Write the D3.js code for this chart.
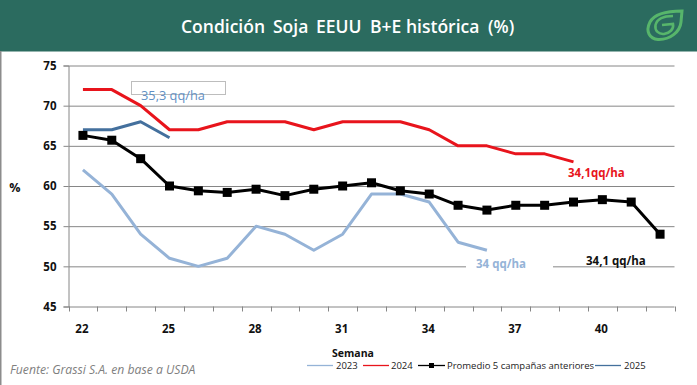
<!DOCTYPE html>
<html>
<head>
<meta charset="utf-8">
<script src="https://cdn.jsdelivr.net/npm/d3@7/dist/d3.min.js"></script>
<style>
  html, body { margin: 0; padding: 0; background: #fff; }
  svg { display: block; }
  text { font-family: "Open Sans", "DejaVu Sans", sans-serif; }
</style>
</head>
<body>
<div id="chart"></div>
<script>
// Data
const weeks = d3.range(22, 43);
const tickWeeks = [22, 25, 28, 31, 34, 37, 40];
const yTicks = [45, 50, 55, 60, 65, 70, 75];

const values2023 = [62, 59, 54, 51, 50, 51, 55, 54, 52, 54, 59, 59, 58, 53, 52];
const values2024 = [72, 72, 70, 67, 67, 68, 68, 68, 67, 68, 68, 68, 67, 65, 65, 64, 64, 63];
const valuesAvg = [66.3, 65.7, 63.4, 60, 59.4, 59.2, 59.6, 58.8, 59.6, 60, 60.4, 59.4, 59, 57.6, 57, 57.6, 57.6, 58, 58.3, 58, 54];
const values2025 = [67, 67, 68, 66];

const W = 697, H = 385;
const margin = {top: 65.5, right: 22.5, bottom: 78.5, left: 68.5};

const svg = d3.select("#chart").append("svg")
    .attr("width", W)
    .attr("height", H);

// Header band and outer frame
svg.append("rect").attr("width", W).attr("height", 51.5).attr("fill", "#2b6b5f");
svg.append("line").attr("x1", 0.5).attr("x2", 0.5).attr("y1", 51).attr("y2", H)
    .attr("stroke", "#8c8c8c").attr("stroke-width", 2);

// Title words placed one by one, the gaps in the original are uneven
const titleWords = [
  {word: "Condición", x: 181},
  {word: "Soja", x: 273},
  {word: "EEUU", x: 316},
  {word: "B+E", x: 370},
  {word: "histórica", x: 406},
  {word: "(%)", x: 488}
];
svg.append("g")
    .selectAll("text")
    .data(titleWords)
    .join("text")
      .attr("x", d => d.x)
      .attr("y", 33)
      .attr("fill", "#fff")
      .style("font-size", "17.5px")
      .style("font-weight", 600)
      .text(d => d.word);

// Logo
const logo = svg.append("g").attr("fill", "none").attr("stroke", "#57b56b");
logo.append("path").attr("stroke-width", 3)
    .attr("d", "M682 11 C670 11 655 13 650 22 C645 32 650 39 658 39.500 C670 40 680 32 681 22 Z");
logo.append("path").attr("stroke-width", 2.6)
    .attr("d", "M673 16 C664 16 657 19 655.500 25 C654.500 31 659 34.500 664 34 C670 33 674 29 673 24 L662 25");

// Scales
const x = d3.scaleBand()
    .domain(weeks)
    .range([margin.left, W - margin.right]);

const y = d3.scaleLinear()
    .domain([45, 75])
    .range([H - margin.bottom, margin.top]);

const xc = d => x(d) + x.bandwidth() / 2;

// Y axis with gridlines
const yAxis = svg.append("g")
    .attr("transform", `translate(${margin.left},0)`)
    .call(d3.axisLeft(y).tickValues(yTicks).tickSize(5).tickPadding(7));
yAxis.select(".domain").attr("stroke", "#868686");
yAxis.selectAll("line").attr("stroke", "#868686");
yAxis.selectAll("text")
    .attr("fill", "#111")
    .style("font-size", "11.5px")
    .style("font-weight", 700);

svg.append("g")
    .selectAll("line")
    .data(yTicks.filter(d => d > 45))
    .join("line")
      .attr("x1", margin.left)
      .attr("x2", W - margin.right)
      .attr("y1", d => y(d) + 0.5)
      .attr("y2", d => y(d) + 0.5)
      .attr("stroke", "#868686");

// X axis: ticks between the weeks, label every third week
const xAxisY = y(45);
svg.append("line")
    .attr("x1", margin.left).attr("x2", W - margin.right)
    .attr("y1", xAxisY + 0.5).attr("y2", xAxisY + 0.5)
    .attr("stroke", "#868686");
svg.append("g")
    .selectAll("line")
    .data(weeks.map(d => x(d)).concat([W - margin.right]))
    .join("line")
      .attr("x1", d => Math.round(d) + 0.5)
      .attr("x2", d => Math.round(d) + 0.5)
      .attr("y1", xAxisY)
      .attr("y2", xAxisY + 5)
      .attr("stroke", "#868686");
svg.append("g")
    .selectAll("text")
    .data(tickWeeks)
    .join("text")
      .attr("x", d => xc(d) - 1)
      .attr("y", xAxisY + 26)
      .attr("text-anchor", "middle")
      .attr("fill", "#111")
      .style("font-size", "11.5px")
      .style("font-weight", 700)
      .text(d => d);

// White patch behind the "34 qq/ha" label covers the gridline
svg.append("rect").attr("x", 466).attr("y", 258).attr("width", 87).attr("height", 15).attr("fill", "#fff");

// Series
const line = d3.line()
    .x((d, i) => xc(weeks[i]))
    .y(d => y(d));

const series = [
  {values: values2023, color: "#95b3d7", width: 3},
  {values: values2024, color: "#e8141c", width: 3},
  {values: valuesAvg, color: "#000000", width: 3},
  {values: values2025, color: "#44709d", width: 3}
];

svg.append("g")
    .selectAll("path")
    .data(series)
    .join("path")
      .attr("d", d => line(d.values))
      .attr("fill", "none")
      .attr("stroke", d => d.color)
      .attr("stroke-width", d => d.width)
      .attr("stroke-linejoin", "round");

svg.append("g")
    .selectAll("rect")
    .data(valuesAvg)
    .join("rect")
      .attr("x", (d, i) => xc(weeks[i]) - 4.5)
      .attr("y", d => y(d) - 4.5)
      .attr("width", 9)
      .attr("height", 9)
      .attr("fill", "#000");

// Annotations
svg.append("text").attr("x", 15).attr("y", 192)
    .attr("text-anchor", "middle").attr("fill", "#111")
    .style("font-size", "12.5px").style("font-weight", 700).text("%");

svg.append("rect").attr("x", 131.5).attr("y", 81.5).attr("width", 94).attr("height", 13)
    .attr("fill", "none").attr("stroke", "#bdbdbd");

const notes = [
  {label: "35,3 qq/ha", x: 141, y: 100, color: "#5f8fc4", weight: 400, size: 12.8},
  {label: "34,1qq/ha", x: 568, y: 177, color: "#e8141c", weight: 700, size: 11.5},
  {label: "34 qq/ha", x: 476, y: 268, color: "#95b3d7", weight: 700, size: 11.5},
  {label: "34,1 qq/ha", x: 586, y: 265, color: "#111", weight: 700, size: 11.5}
];
svg.append("g")
    .selectAll("text")
    .data(notes)
    .join("text")
      .attr("x", d => d.x)
      .attr("y", d => d.y)
      .attr("fill", d => d.color)
      .style("font-size", d => d.size + "px")
      .style("font-weight", d => d.weight)
      .text(d => d.label);

// Legend
svg.append("text").attr("x", 332).attr("y", 357)
    .attr("fill", "#111")
    .style("font-size", "10.5px").style("font-weight", 700).text("Semana");

const legendItems = [
  {label: "2023", x1: 307, x2: 333, tx: 336, color: "#95b3d7"},
  {label: "2024", x1: 363, x2: 389, tx: 391, color: "#e8141c"},
  {label: "Promedio 5 campañas anteriores", x1: 418, x2: 445, tx: 447, color: "#000", marker: true},
  {label: "2025", x1: 595, x2: 621, tx: 624, color: "#44709d"}
];
const legendY = 365.5;
const legend = svg.append("g")
    .selectAll("g")
    .data(legendItems)
    .join("g");
legend.append("line")
    .attr("x1", d => d.x1).attr("x2", d => d.x2)
    .attr("y1", legendY).attr("y2", legendY)
    .attr("stroke", d => d.color)
    .attr("stroke-width", 1.3);
legend.filter(d => d.marker).append("rect")
    .attr("x", d => (d.x1 + d.x2) / 2 - 2.5)
    .attr("y", legendY - 2.5)
    .attr("width", 5).attr("height", 5)
    .attr("fill", "#000");
legend.append("text")
    .attr("x", d => d.tx)
    .attr("y", legendY + 3.5)
    .attr("fill", "#222")
    .style("font-size", "9.5px")
    .text(d => d.label);

// Source
svg.append("text").attr("x", 10).attr("y", 374)
    .attr("fill", "#7f7f7f")
    .style("font-size", "12.2px")
    .style("font-style", "italic")
    .text("Fuente: Grassi S.A. en base a USDA");
</script>
</body>
</html>
